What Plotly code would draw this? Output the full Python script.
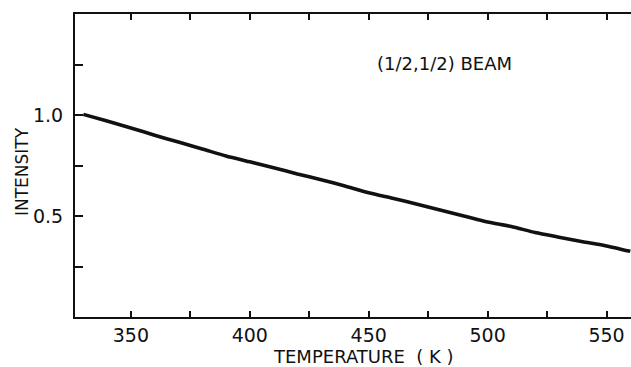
import plotly.graph_objects as go

temperature = [330, 340, 350, 360, 370, 380, 390, 400, 410, 420, 430, 440,
               450, 460, 470, 480, 490, 500, 510, 520, 530, 540, 550, 560]
intensity = [1.003, 0.970, 0.936, 0.900, 0.866, 0.832, 0.797, 0.768, 0.739,
             0.708, 0.680, 0.649, 0.615, 0.588, 0.560, 0.530, 0.500, 0.470,
             0.448, 0.418, 0.395, 0.373, 0.352, 0.325]

x_tickvals = [350, 375, 400, 425, 450, 475, 500, 525, 550]
x_ticktext = ["350", "", "400", "", "450", "", "500", "", "550"]
y_tickvals = [0.25, 0.5, 0.75, 1.0, 1.25]
y_ticktext = ["", "0.5", "", "1.0", ""]

FONT = "DejaVu Sans"
INK = "#111111"

fig = go.Figure()
fig.add_trace(go.Scatter(x=temperature, y=intensity, mode="lines",
                         line=dict(color=INK, width=3.6, shape="spline", smoothing=0.6),
                         hoverinfo="skip"))

fig.update_layout(
    width=631, height=367,
    margin=dict(l=75, r=0, t=14, b=50),
    paper_bgcolor="white", plot_bgcolor="white",
    showlegend=False,
    font=dict(family=FONT, size=18, color=INK),
    xaxis=dict(range=[326.5, 560.3], tickvals=x_tickvals, ticktext=x_ticktext,
               ticks="inside", ticklen=6, tickwidth=1.5, tickcolor=INK,
               showline=True, linewidth=2, linecolor=INK, mirror="allticks",
               showgrid=False, zeroline=False,
               tickfont=dict(family=FONT, size=19, color=INK)),
    yaxis=dict(range=[0, 1.5], tickvals=y_tickvals, ticktext=y_ticktext,
               ticks="inside", ticklen=8, tickwidth=1.5, tickcolor=INK,
               showline=True, linewidth=2, linecolor=INK, mirror=False,
               showgrid=False, zeroline=False, ticklabelstandoff=6,
               tickfont=dict(family=FONT, size=19, color=INK)),
    annotations=[
        dict(text="(1/2,1/2) BEAM", x=482, y=1.257, xref="x", yref="y",
             showarrow=False, font=dict(family=FONT, size=18, color=INK)),
        dict(text="TEMPERATURE  ( K )", x=0.518, y=-0.132, xref="paper", yref="paper",
             xanchor="center", yanchor="middle", showarrow=False,
             font=dict(family=FONT, size=18, color=INK)),
        dict(text="INTENSITY", x=-0.0953, y=0.4785, xref="paper", yref="paper",
             xanchor="center", yanchor="middle", showarrow=False, textangle=-90,
             font=dict(family=FONT, size=17, color=INK)),
    ],
)

fig.write_html("out.html")
